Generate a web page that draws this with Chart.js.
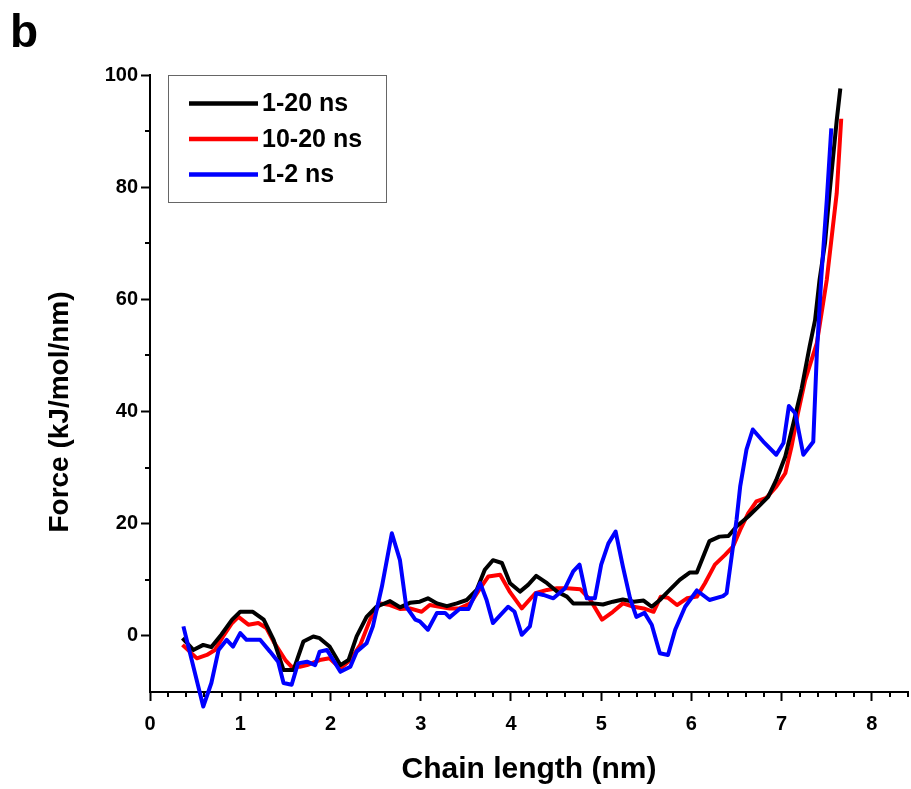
<!DOCTYPE html>
<html>
<head>
<meta charset="utf-8">
<script src="https://cdn.jsdelivr.net/npm/chart.js@4/dist/chart.umd.min.js"></script>
<style>
  html, body { margin: 0; padding: 0; background: #fff; }
  #wrap { width: 911px; height: 789px; position: relative; }
</style>
</head>
<body>
<div id="wrap"><canvas id="c" width="911" height="789"></canvas></div>
<script>
// ---- data ----
const panelLabel = 'b';
const xTitle = 'Chain length (nm)';
const yTitle = 'Force (kJ/mol/nm)';
const xTickValues = [0, 1, 2, 3, 4, 5, 6, 7, 8];
const yTickValues = [0, 20, 40, 60, 80, 100];
const seriesLabels = ['1-20 ns', '10-20 ns', '1-2 ns'];
const seriesColors = ['#000000', '#ff0000', '#0000ff'];

// 1-20 ns : [chain length, force]
const black1to20 = [
  [0.36,-0.4],[0.48,-2.5],[0.59,-1.6],[0.68,-2.0],[0.79,0.2],[0.91,2.9],[1.00,4.3],[1.14,4.3],
  [1.26,2.9],[1.37,-0.7],[1.48,-6.1],[1.59,-6.1],[1.70,-1.0],[1.81,-0.1],[1.88,-0.4],[1.99,-1.9],
  [2.11,-5.2],[2.20,-4.3],[2.29,-0.1],[2.40,3.4],[2.51,5.2],[2.66,6.2],[2.77,5.1],[2.88,5.9],
  [2.99,6.1],[3.08,6.7],[3.18,5.8],[3.29,5.3],[3.40,5.8],[3.51,6.4],[3.62,8.2],[3.71,11.8],
  [3.80,13.5],[3.90,13.0],[3.99,9.4],[4.10,7.9],[4.19,9.1],[4.28,10.7],[4.40,9.4],[4.51,7.9],
  [4.62,7.0],[4.69,5.8],[4.80,5.8],[4.91,5.8],[5.02,5.6],[5.13,6.1],[5.24,6.5],[5.36,6.1],
  [5.47,6.3],[5.56,5.2],[5.65,6.4],[5.74,7.9],[5.87,10.0],[5.98,11.3],[6.06,11.3],[6.13,14.1],
  [6.20,16.9],[6.31,17.7],[6.41,17.8],[6.50,19.5],[6.63,21.3],[6.74,23.0],[6.85,24.8],[6.94,27.8],
  [7.04,32.0],[7.13,37.9],[7.22,44.0],[7.31,51.6],[7.37,56.3],[7.42,63.5],[7.48,70.0],[7.53,78.9],
  [7.61,91.9],[7.65,97.6]
];
// 10-20 ns
const red10to20 = [
  [0.36,-1.6],[0.52,-4.0],[0.63,-3.4],[0.72,-2.5],[0.81,-0.1],[0.91,2.3],[0.98,3.4],[1.09,2.0],
  [1.20,2.3],[1.29,1.4],[1.38,-1.3],[1.50,-4.3],[1.57,-5.5],[1.66,-5.5],[1.74,-5.2],[1.88,-4.3],
  [1.99,-4.0],[2.11,-5.8],[2.22,-4.3],[2.33,-1.6],[2.44,2.9],[2.55,5.8],[2.66,5.5],[2.77,4.8],
  [2.88,4.9],[3.01,4.3],[3.10,5.5],[3.21,5.2],[3.32,4.9],[3.43,4.9],[3.55,5.8],[3.66,8.5],
  [3.75,10.6],[3.88,10.9],[3.99,7.8],[4.12,4.9],[4.27,7.6],[4.40,8.2],[4.51,8.5],[4.62,8.5],
  [4.77,8.3],[4.88,6.4],[5.01,2.9],[5.13,4.3],[5.24,5.8],[5.36,5.2],[5.47,4.9],[5.58,4.3],
  [5.66,7.0],[5.74,6.8],[5.84,5.5],[5.95,6.7],[6.06,7.0],[6.15,9.4],[6.26,12.7],[6.37,14.4],
  [6.46,15.9],[6.54,18.9],[6.63,21.9],[6.72,24.0],[6.83,24.6],[6.94,26.6],[7.04,29.0],[7.11,33.8],
  [7.18,39.7],[7.26,45.6],[7.39,52.2],[7.50,63.5],[7.61,78.9],[7.66,92.2]
];
// 1-2 ns
const blue1to2 = [
  [0.37,1.7],[0.59,-12.6],[0.68,-8.4],[0.76,-2.5],[0.85,-0.7],[0.92,-1.9],[1.00,0.5],[1.07,-0.7],
  [1.22,-0.7],[1.33,-2.8],[1.42,-4.6],[1.48,-8.4],[1.57,-8.7],[1.64,-4.9],[1.74,-4.6],[1.83,-5.2],
  [1.88,-2.8],[1.96,-2.5],[2.03,-4.3],[2.11,-6.4],[2.22,-5.5],[2.29,-2.8],[2.40,-1.3],[2.47,1.7],
  [2.57,8.8],[2.68,18.3],[2.77,13.5],[2.84,5.2],[2.94,2.9],[2.99,2.6],[3.08,1.1],[3.18,4.1],
  [3.27,4.1],[3.32,3.3],[3.43,4.8],[3.53,4.8],[3.66,9.4],[3.73,6.4],[3.80,2.3],[3.90,4.0],
  [3.97,5.2],[4.04,4.3],[4.12,0.2],[4.21,1.7],[4.28,7.6],[4.36,7.3],[4.47,6.7],[4.60,8.5],
  [4.69,11.5],[4.76,12.7],[4.84,6.7],[4.93,6.7],[5.00,12.7],[5.08,16.5],[5.16,18.6],[5.24,12.4],
  [5.32,6.7],[5.39,3.4],[5.48,4.1],[5.56,2.0],[5.65,-3.1],[5.74,-3.4],[5.82,1.1],[5.93,5.2],
  [6.06,8.1],[6.20,6.4],[6.35,7.1],[6.39,7.6],[6.45,14.7],[6.50,20.7],[6.54,26.6],[6.61,33.2],
  [6.68,36.8],[6.81,34.4],[6.94,32.3],[7.02,34.4],[7.08,41.0],[7.15,39.7],[7.24,32.3],[7.35,34.6],
  [7.39,50.4],[7.44,64.1],[7.50,77.7],[7.55,90.5]
];

// ---- rendering ----
const FONT = "'Liberation Sans', Arial, sans-serif";
const toXY = arr => arr.map(p => ({x: p[0], y: p[1]}));

const decor = {
  id: 'decor',
  afterDraw(chart) {
    const ctx = chart.ctx;
    const xs = chart.scales.x, ys = chart.scales.y;
    const area = chart.chartArea;
    ctx.save();
    // minor ticks
    ctx.strokeStyle = '#000';
    ctx.lineWidth = 2;
    ctx.beginPath();
    for (let i = 1; i <= 42; i++) {
      if (i % 5 === 0) continue;
      const px = Math.round(xs.getPixelForValue(i / 5));
      ctx.moveTo(px, area.bottom);
      ctx.lineTo(px, area.bottom + 5);
    }
    for (let v = 10; v <= 90; v += 20) {
      const py = Math.round(ys.getPixelForValue(v));
      ctx.moveTo(area.left, py);
      ctx.lineTo(area.left - 5, py);
    }
    ctx.stroke();

    // y axis title
    ctx.fillStyle = '#000';
    ctx.save();
    ctx.translate(60, 412);
    ctx.rotate(-Math.PI / 2);
    ctx.font = "bold 28px " + FONT;
    ctx.textAlign = 'center';
    ctx.textBaseline = 'middle';
    ctx.fillText(yTitle, 0, 0);
    ctx.restore();

    // panel label
    ctx.font = "bold 46px " + FONT;
    ctx.textBaseline = 'alphabetic';
    ctx.textAlign = 'left';
    ctx.fillText(panelLabel, 10, 47);

    // legend box
    const bx = 168.5, by = area.top + 0.5, bw = 218, bh = 127;
    ctx.strokeStyle = '#666';
    ctx.lineWidth = 1;
    ctx.strokeRect(bx, by, bw, bh);
    ctx.font = "bold 25px " + FONT;
    ctx.textBaseline = 'middle';
    chart.data.datasets.forEach((ds, i) => {
      const cy = by + 28 + i * 35.5;
      ctx.strokeStyle = ds.borderColor;
      ctx.lineWidth = 4.5;
      ctx.beginPath();
      ctx.moveTo(189, cy);
      ctx.lineTo(258, cy);
      ctx.stroke();
      ctx.fillStyle = '#000';
      ctx.fillText(ds.label, 262, cy + 1);
    });
    ctx.restore();
  }
};

const datasets = [black1to20, red10to20, blue1to2].map((arr, i) => ({
  label: seriesLabels[i],
  data: toXY(arr),
  borderColor: seriesColors[i],
  backgroundColor: seriesColors[i],
  borderWidth: 4,
  pointRadius: 0,
  tension: 0,
  fill: false,
  clip: false,
  borderJoinStyle: 'round',
  borderCapStyle: 'butt',
  order: [1, 2, 0][i]
}));

new Chart(document.getElementById('c'), {
  type: 'line',
  data: { datasets },
  options: {
    responsive: false,
    animation: false,
    layout: { padding: { top: 75, right: 3, left: 0, bottom: 0 } },
    plugins: { legend: { display: false }, tooltip: { enabled: false }, title: { display: false } },
    scales: {
      x: {
        type: 'linear',
        min: 0, max: 8.4,
        afterBuildTicks: s => { s.ticks = xTickValues.map(v => ({value: v})); },
        afterFit: s => { s.height = 97; },
        border: { display: true, color: '#000', width: 2 },
        grid: { display: true, drawOnChartArea: false, drawTicks: true, tickLength: 9, tickWidth: 2, tickColor: '#000' },
        ticks: { color: '#000', font: { family: FONT, size: 20, weight: 'bold' }, padding: 11, maxRotation: 0 },
        title: { display: true, text: xTitle, color: '#000', font: { family: FONT, size: 30, weight: 'bold' }, padding: { top: 0, bottom: 1 } }
      },
      y: {
        type: 'linear',
        min: -10, max: 100,
        afterBuildTicks: s => { s.ticks = yTickValues.map(v => ({value: v})); },
        afterFit: s => { s.width = 150; },
        border: { display: true, color: '#000', width: 2 },
        grid: { display: true, drawOnChartArea: false, drawTicks: true, tickLength: 9, tickWidth: 2, tickColor: '#000' },
        ticks: { color: '#000', font: { family: FONT, size: 20, weight: 'bold' }, padding: 3 },
        title: { display: false, text: yTitle }
      }
    }
  },
  plugins: [decor]
});
</script>
</body>
</html>
